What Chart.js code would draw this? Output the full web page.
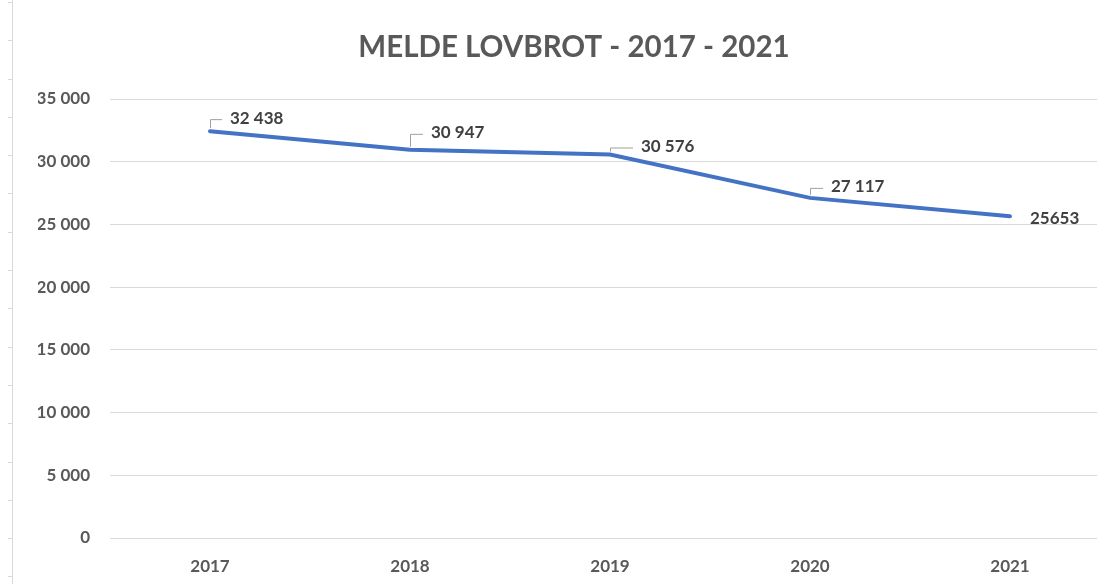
<!DOCTYPE html>
<html>
<head>
<meta charset="utf-8">
<script src="https://cdn.jsdelivr.net/npm/chart.js@4/dist/chart.umd.min.js"></script>
<style>
  html, body { margin: 0; padding: 0; background: #fff; overflow: hidden; }
  #wrap { position: relative; width: 1097px; height: 584px; overflow: hidden; }
  #frame {
    position: absolute; left: 8px; top: 0; width: 4px; height: 584px;
    border-right: 1px solid #d9d9d9;
    background: repeating-linear-gradient(to bottom, transparent 0, transparent 2px, #d9d9d9 2px, #d9d9d9 3px, transparent 3px, transparent 38.3px);
  }
  #box { position: absolute; left: 0; top: 0; width: 1130px; height: 584px; }
</style>
</head>
<body>
<div id="wrap">
  <div id="frame"></div>
  <div id="box"><canvas id="lovbrotChart"></canvas></div>
</div>
<script>
const years = ["2017", "2018", "2019", "2020", "2021"];
const reports = [32438, 30947, 30576, 27117, 25653];
// Excel showed the last label without the thousands space
const groupedLabel = [true, true, true, true, false];
// manual label offsets (dx, dy) from each point, as moved in the original
const labelOffsets = [[20, -13], [21, -17], [31, -8], [21, -11], [20, 2]];
const showLeader = [true, true, true, true, false];

const fontFamily = "Lato, 'Open Sans', sans-serif";

function spaced(n) {
    return String(n).replace(/\B(?=(\d{3})+(?!\d))/g, " ");
}

const pointLabels = {
    id: 'pointLabels',
    afterDatasetsDraw(chart) {
        const c = chart.ctx;
        const meta = chart.getDatasetMeta(0);
        c.save();
        c.font = "bold 17px " + fontFamily;
        c.fillStyle = "#404040";
        c.textBaseline = "middle";
        c.textAlign = "left";
        meta.data.forEach((pt, i) => {
            const [dx, dy] = labelOffsets[i];
            const tx = pt.x + dx;
            const ty = pt.y + dy;
            if (showLeader[i]) {
                c.strokeStyle = "#a0a0a0";
                c.lineWidth = 1;
                c.beginPath();
                c.moveTo(pt.x + 0.5, pt.y - 3);
                c.lineTo(pt.x + 0.5, ty + 1.5);
                c.lineTo(tx - 8, ty + 1.5);
                c.stroke();
            }
            const v = reports[i];
            c.fillText(groupedLabel[i] ? spaced(v) : String(v), tx, ty);
        });
        c.restore();
    }
};

new Chart(document.getElementById("lovbrotChart"), {
    type: 'line',
    data: {
        labels: years,
        datasets: [{
            data: reports,
            borderColor: "#4472c4",
            borderWidth: 4,
            pointRadius: 0,
            tension: 0,
            borderCapStyle: 'round'
        }]
    },
    options: {
        responsive: true,
        maintainAspectRatio: false,
        animation: false,
        layout: { padding: { left: 38, right: 20, top: 0, bottom: 0 } },
        plugins: {
            legend: { display: false },
            tooltip: { enabled: false },
            title: {
                display: true,
                text: "MELDE LOVBROT - 2017 - 2021",
                color: "#595959",
                font: { family: fontFamily, size: 29.5, weight: 'bold', lineHeight: 1.2 },
                padding: { top: 30, bottom: 33.6 }
            }
        },
        scales: {
            x: {
                offset: true,
                grid: { display: false, drawTicks: false },
                border: { display: false },
                ticks: {
                    color: "#595959",
                    font: { family: fontFamily, size: 17, weight: 'bold' },
                    padding: 18
                },
                afterFit(s) { s.height = 46; }
            },
            y: {
                min: 0,
                max: 35000,
                grid: { color: "#d9d9d9", lineWidth: 1, drawTicks: false },
                border: { display: false },
                ticks: {
                    stepSize: 5000,
                    color: "#595959",
                    font: { family: fontFamily, size: 17, weight: 'bold' },
                    padding: 20,
                    callback: v => spaced(v)
                },
                afterFit(s) { s.width = 72; }
            }
        }
    },
    plugins: [pointLabels]
});
</script>
</body>
</html>
